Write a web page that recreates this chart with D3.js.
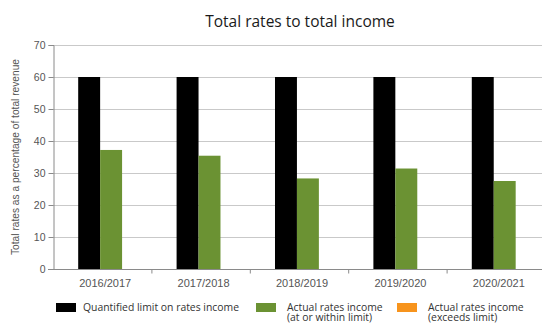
<!DOCTYPE html>
<html>
<head>
<meta charset="utf-8">
<script src="https://cdn.jsdelivr.net/npm/d3@7"></script>
<style>
  html, body { margin: 0; padding: 0; background: #fff; }
  svg { display: block; }
</style>
</head>
<body>
<svg id="chart" width="542" height="324"></svg>
<script>
const categories = ["2016/2017", "2017/2018", "2018/2019", "2019/2020", "2020/2021"];
const seriesNames = ["Quantified limit on rates income", "Actual rates income (at or within limit)", "Actual rates income (exceeds limit)"];
const limitValues = [60, 60, 60, 60, 60];
const withinValues = [37.2, 35.4, 28.3, 31.4, 27.5];
const exceedsValues = [0, 0, 0, 0, 0];
const yTicks = [0, 10, 20, 30, 40, 50, 60, 70];
const seriesColors = ["#000000", "#6b9233", "#f7941d"];

(function () {
const seriesValues = [limitValues, withinValues, exceedsValues];
const keys = ["limit", "within", "exceeds"];

const svg = d3.select("#chart");
const mLeft = 53, mRight = 545, mTop = 45, mBottom = 269;

const y = d3.scaleLinear().domain([0, 70]).range([mBottom, mTop]);
const x = d3.scaleBand().domain(categories).range([mLeft, mRight]).paddingInner(0).paddingOuter(0);
const step = x.bandwidth();
const x1 = d3.scaleBand().domain(keys).range([step * 0.256, step * 0.925]).padding(0);

// title
svg.append("text")
  .attr("x", 300).attr("y", 27)
  .attr("text-anchor", "middle")
  .attr("font-family", "'Open Sans', 'Noto Sans', sans-serif")
  .attr("font-size", 15.5)
  .attr("fill", "#1a1a1a")
  .text("Total rates to total income");

// gridlines
svg.append("g").selectAll("line")
  .data(yTicks.filter(d => d > 0))
  .join("line")
  .attr("x1", mLeft).attr("x2", 542)
  .attr("y1", d => Math.round(y(d)) + 0.5).attr("y2", d => Math.round(y(d)) + 0.5)
  .attr("stroke", "#c9c9c9").attr("stroke-width", 1);

// y axis
const yAxis = d3.axisLeft(y).tickValues(yTicks).tickSize(5).tickPadding(3).tickFormat(d3.format("d"));
const gy = svg.append("g").attr("transform", `translate(${mLeft + 0.5},0)`).call(yAxis);
gy.select(".domain").attr("stroke", "#8a8a8a");
gy.selectAll(".tick line").attr("stroke", "#8a8a8a");
gy.selectAll(".tick text")
  .attr("font-family", "'Liberation Sans', Arial, sans-serif")
  .attr("font-size", 10.5).attr("fill", "#555");

// bars
const groups = svg.append("g").selectAll("g")
  .data(categories)
  .join("g")
  .attr("transform", d => `translate(${x(d)},0)`);

groups.selectAll("rect")
  .data((d, i) => keys.map((k, s) => ({ key: k, value: seriesValues[s][i], color: seriesColors[s] })))
  .join("rect")
  .attr("x", d => x1(d.key))
  .attr("width", x1.bandwidth())
  .attr("y", d => y(d.value))
  .attr("height", d => y(0) - y(d.value))
  .attr("fill", d => d.color);

// x axis
const gx = svg.append("g").attr("transform", `translate(0,${mBottom + 0.5})`);
gx.append("line").attr("x1", mLeft - 5).attr("x2", 542).attr("y1", 0).attr("y2", 0).attr("stroke", "#8a8a8a");
gx.selectAll(".xt").data(categories.slice(1))
  .join("line").attr("class", "xt")
  .attr("x1", d => x(d) + 0.5).attr("x2", d => x(d) + 0.5)
  .attr("y1", 0).attr("y2", 4).attr("stroke", "#8a8a8a");
gx.selectAll(".xl").data(categories)
  .join("text").attr("class", "xl")
  .attr("x", d => x(d) + step / 2 + 3)
  .attr("y", 17)
  .attr("text-anchor", "middle")
  .attr("font-family", "'Liberation Sans', Arial, sans-serif")
  .attr("font-size", 11).attr("fill", "#555")
  .text(d => d);

// y axis label
svg.append("text")
  .attr("transform", `translate(19,${(mTop + mBottom) / 2}) rotate(-90)`)
  .attr("text-anchor", "middle")
  .attr("font-family", "'Liberation Sans', Arial, sans-serif")
  .attr("font-size", 10.2).attr("fill", "#555")
  .text("Total rates as a percentage of total revenue");

// legend
const legendItems = [
  { color: seriesColors[0], sx: 56, tx: 83, lines: ["Quantified limit on rates income"] },
  { color: seriesColors[1], sx: 256, tx: 287, lines: ["Actual rates income", "(at or within limit)"] },
  { color: seriesColors[2], sx: 397, tx: 428, lines: ["Actual rates income", "(exceeds limit)"] }
];
const lg = svg.append("g");
legendItems.forEach(it => {
  lg.append("rect").attr("x", it.sx).attr("y", 303).attr("width", 20).attr("height", 9).attr("fill", it.color);
  it.lines.forEach((l, i) => {
    lg.append("text")
      .attr("x", it.tx).attr("y", 311 + i * 10)
      .attr("font-family", "'Open Sans', 'Noto Sans', sans-serif")
      .attr("font-size", 10.4).attr("fill", "#333")
      .text(l);
  });
});
})();
</script>
</body>
</html>
